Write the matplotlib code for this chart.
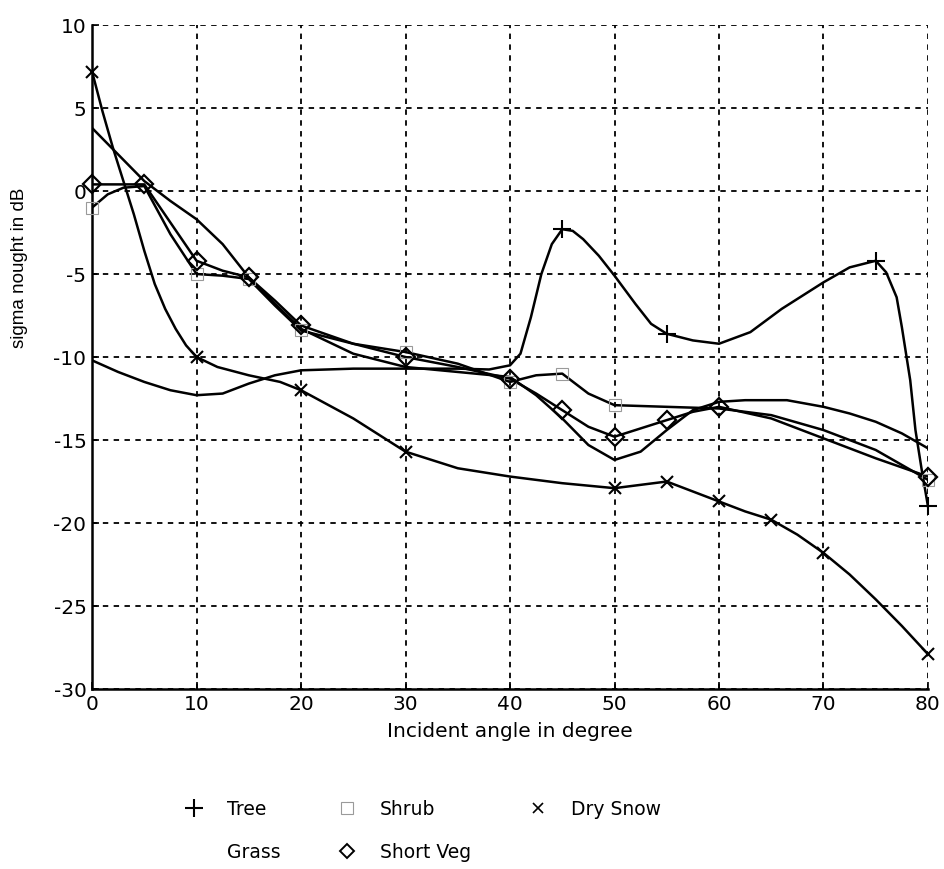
import matplotlib.pyplot as plt
from matplotlib.lines import Line2D

plt.rcParams['axes.unicode_minus'] = False

# curves (incident angle in degree, sigma nought in dB)
tree_x = [0, 2.5, 5, 7.5, 10, 12.5, 15, 17.5, 20, 25, 30, 35, 38, 40, 41, 42, 43, 44, 45, 46, 47,
          48.5, 50, 52, 53.5, 55, 57.5, 60, 63, 66, 70, 72.5, 75, 76, 77, 77.5, 78.3, 78.8, 79.4, 80]
tree_y = [-10.2, -10.9, -11.5, -12.0, -12.3, -12.2, -11.6, -11.1, -10.8, -10.7, -10.7, -10.7, -10.75,
          -10.5, -9.8, -7.6, -5.0, -3.2, -2.3, -2.4, -2.9, -3.9, -5.1, -6.8, -8.0, -8.6, -9.0, -9.2,
          -8.5, -7.1, -5.5, -4.6, -4.2, -4.9, -6.4, -8.2, -11.4, -14.4, -16.8, -19.0]

grass_x = [0, 2.5, 5, 7.5, 10, 12.5, 15, 17.5, 20, 25, 30, 35, 40, 42.5, 45, 47.5, 50, 52.5, 55,
           57.5, 60, 62.5, 66.5, 70, 72.5, 75, 77.5, 80]
grass_y = [3.8, 2.2, 0.6, -0.6, -1.7, -3.2, -5.2, -6.8, -8.3, -9.8, -10.6, -10.9, -11.2, -12.3,
           -13.7, -15.3, -16.2, -15.7, -14.4, -13.2, -12.7, -12.6, -12.6, -13.0, -13.4, -13.9, -14.6, -15.5]

shrub_x = [0, 1.5, 3, 5, 7.5, 10, 12.5, 15, 17.5, 20, 25, 30, 35, 40, 42.5, 45, 47.5, 50, 55, 60,
           65, 70, 75, 80]
shrub_y = [-1.0, -0.2, 0.2, 0.3, -2.6, -5.0, -5.1, -5.3, -6.9, -8.4, -9.2, -9.7, -10.4, -11.5,
           -11.1, -11.0, -12.2, -12.9, -13.0, -13.1, -13.5, -14.4, -15.6, -17.4]

veg_x = [0, 2.5, 5, 7.5, 10, 12.5, 15, 17.5, 20, 25, 30, 35, 40, 42.5, 45, 47.5, 50, 52.5, 55,
         57.5, 60, 65, 70, 75, 80]
veg_y = [0.4, 0.4, 0.4, -1.9, -4.2, -4.8, -5.2, -6.6, -8.1, -9.2, -10.0, -10.6, -11.3, -12.2,
         -13.2, -14.2, -14.8, -14.3, -13.8, -13.3, -13.0, -13.7, -14.9, -16.1, -17.2]

snow_x = [0, 1, 2, 3, 4, 5, 6, 7, 8, 9, 10, 12, 15, 18, 20, 25, 30, 35, 40, 45, 50, 52.5, 55,
          57.5, 60, 62.5, 65, 67.5, 70, 72.5, 75, 77.5, 80]
snow_y = [7.2, 4.8, 2.6, 0.6, -1.4, -3.6, -5.6, -7.1, -8.3, -9.3, -10.0, -10.6, -11.1, -11.5,
          -12.0, -13.7, -15.7, -16.7, -17.2, -17.6, -17.9, -17.7, -17.5, -18.1, -18.7, -19.3,
          -19.8, -20.7, -21.8, -23.1, -24.6, -26.2, -27.9]

# angles where the measured points (markers) sit
tree_marks = [45, 55, 75, 80]
shrub_marks = [0, 10, 15, 20, 30, 40, 45, 50, 80]
veg_marks = [0, 5, 10, 15, 20, 30, 40, 45, 50, 55, 60, 80]
snow_marks = [0, 10, 20, 30, 50, 55, 60, 65, 70, 80]

labels = ['Tree', 'Grass', 'Shrub', 'Short Veg', 'Dry Snow']

x_ticks = list(range(0, 81, 10))
y_ticks = list(range(-30, 11, 5))


def pick(xs, ys, marks):
    return marks, [ys[xs.index(m)] for m in marks]


fig = plt.figure(figsize=(9.45, 8.69), dpi=100)
ax = fig.add_axes([0.0974, 0.2071, 0.8846, 0.7641])

lw = 1.8
for xs, ys in [(tree_x, tree_y), (grass_x, grass_y), (shrub_x, shrub_y), (veg_x, veg_y), (snow_x, snow_y)]:
    ax.plot(xs, ys, color='black', lw=lw, zorder=3)

mx, my = pick(tree_x, tree_y, tree_marks)
ax.plot(mx, my, ls='none', marker='+', ms=13, mew=1.5, color='black', zorder=4, clip_on=False)
mx, my = pick(shrub_x, shrub_y, shrub_marks)
ax.plot(mx, my, ls='none', marker='s', ms=9, mew=0.8, mfc='none', mec='#9a9a9a', zorder=4, clip_on=False)
mx, my = pick(veg_x, veg_y, veg_marks)
ax.plot(mx, my, ls='none', marker='D', ms=9, mew=1.6, mfc='none', mec='black', zorder=4, clip_on=False)
mx, my = pick(snow_x, snow_y, snow_marks)
ax.plot(mx, my, ls='none', marker='x', ms=9, mew=1.5, color='black', zorder=4, clip_on=False)

ax.set_xlim(0, 80)
ax.set_ylim(-30, 10)
ax.set_xticks(x_ticks)
ax.set_yticks(y_ticks)
ax.grid(True, color='black', linestyle=(0, (3, 3)), linewidth=1.3)
ax.set_axisbelow(True)
for s in ['top', 'right']:
    ax.spines[s].set_visible(False)
for s in ['left', 'bottom']:
    ax.spines[s].set_linewidth(1.8)
ax.tick_params(direction='in', length=5, width=1.2, labelsize=14.5, pad=4)
for t in ax.get_xticklabels() + ax.get_yticklabels():
    t.set_family('DejaVu Sans')

ax.set_xlabel('Incident angle in degree', fontsize=14.5, family='DejaVu Sans', labelpad=6)
ax.set_ylabel('sigma nought in dB', fontsize=13.5, family='Liberation Sans')
ax.yaxis.set_label_coords(-0.077, 0.634)

handles = [
    Line2D([], [], ls='none', marker='+', ms=13, mew=1.5, color='black'),
    Line2D([], [], ls='none', marker='', color='black'),
    Line2D([], [], ls='none', marker='s', ms=9, mew=0.8, mfc='none', mec='#9a9a9a'),
    Line2D([], [], ls='none', marker='D', ms=7, mew=1.4, mfc='none', mec='black'),
    Line2D([], [], ls='none', marker='x', ms=7, mew=1.2, color='black'),
]
fig.legend(handles, labels, ncol=3, loc='center', bbox_to_anchor=(0.445, 0.044),
           frameon=False, prop={'family': 'DejaVu Sans', 'size': 13.5},
           handlelength=1.5, handletextpad=1.0, columnspacing=2.8, labelspacing=1.3)

fig.savefig('out.png', dpi=100)
